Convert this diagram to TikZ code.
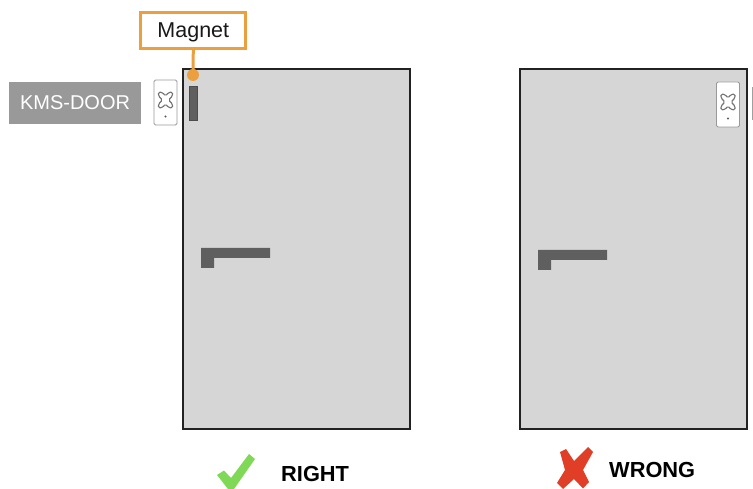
\documentclass[tikz,border=0pt]{standalone}
\usepackage{fontspec}
\setmainfont{Liberation Sans}
\definecolor{doorfill}{HTML}{D6D6D6}
\definecolor{doorline}{HTML}{222222}
\definecolor{darkpart}{HTML}{5F5F5F}
\definecolor{tagfill}{HTML}{999999}
\definecolor{magorange}{HTML}{EC9F3F}
\definecolor{okgreen}{HTML}{7FD957}
\definecolor{badred}{HTML}{E03E26}
\tikzset{
  door/.style={draw=doorline,line width=1.6pt,fill=doorfill,minimum width=227pt,minimum height=360pt,inner sep=0pt},
  sensorbody/.style={draw=black!40,line width=0.9pt,fill=white,rounded corners=1.5pt,minimum width=23pt,minimum height=45pt,inner sep=0pt},
  sensormark/.style={draw=black!55,line width=1.1pt,fill=white,rounded corners=1.5pt},
  darkbar/.style={fill=darkpart,draw=black!70,line width=0.5pt,minimum width=8pt,minimum height=34pt,inner sep=0pt},
  handlepart/.style={fill=darkpart,draw=none},
  tag/.style={fill=tagfill,text=white,font=\fontsize{20}{24}\selectfont,minimum width=132pt,minimum height=42pt,inner sep=0pt,text height=14pt,text depth=0pt},
  callout/.style={draw=magorange,line width=3.2pt,fill=white,text=black!90,font=\fontsize{21.5}{25}\selectfont,minimum width=105pt,minimum height=36pt,inner sep=0pt,text height=14.4pt,text depth=0pt},
  verdict/.style={font=\bfseries\fontsize{21.8}{25}\selectfont,text=black,inner sep=0pt},
  calloutline/.style={draw=magorange,line width=3pt},
  calloutdot/.style={circle,fill=magorange,minimum size=12pt,inner sep=0pt}
}
\newcommand{\sensormarkat}[2]{%
  \begin{scope}[shift={(#1,#2)}]
  \path[sensormark] (-7,-10.5) -- (-3,-10) -- (0,-6.5) -- (3,-10) -- (7,-10.5) -- (7,-6.5) -- (3,-2.5) -- (7,1.5) -- (7,5.5) -- (3,5) -- (0,1.5) -- (-3,5) -- (-7,5.5) -- (-7,1.5) -- (-3,-2.5) -- (-7,-6.5) -- cycle;
  \fill[black!65] (0,14) circle (1.1pt);
  \end{scope}
}
\begin{document}
\begin{tikzpicture}[x=1pt,y=-1pt]
\useasboundingbox (0,0) rectangle (753,489);
% doors
\node[door] (doorA) at (296.5,249) {};
\node[door] (doorB) at (633.5,249) {};
% handles
\fill[handlepart] (201,248) -- (270,248) -- (270,258) -- (214,258) -- (214,268) -- (201,268) -- cycle;
\fill[handlepart] (538,250) -- (607,250) -- (607,260) -- (551,260) -- (551,270) -- (538,270) -- cycle;
% sensors
\node[sensorbody] (sensorA) at (165.5,102.5) {};
\sensormarkat{165.5}{102.5}
\node[sensorbody] (sensorB) at (728,104.5) {};
\sensormarkat{728}{104.5}
% magnet and tag
\node[darkbar] (magnetbar) at (193,103) {};
\node[tag] (kms) at (75,103) {KMS-DOOR};
\node[callout] (magnet) at (193.3,30.3) {Magnet};
\node[calloutdot] (dot) at (193,75) {};
\draw[calloutline] (magnet.south) -- (dot.center);
% cut-off bar at the right edge
\fill[darkpart!60] (752,87) rectangle (753,120);
% verdict marks
\fill[okgreen] (217,475) -- (224,470.5) -- (231,478) -- (249,454) -- (255,459) -- (234,489) -- (228,489) -- cycle;
\fill[badred] (560,452) -- (566,449) -- (574,461) -- (588,447) -- (593,452) -- (583,470) -- (589,482) -- (583,488.5) -- (574,479) -- (563,489) -- (557,483) -- (565,470) -- cycle;
\node[verdict,anchor=west] (right) at (281,474) {RIGHT};
\node[verdict,anchor=west] (wrong) at (609,470) {WRONG};
\end{tikzpicture}
\end{document}
